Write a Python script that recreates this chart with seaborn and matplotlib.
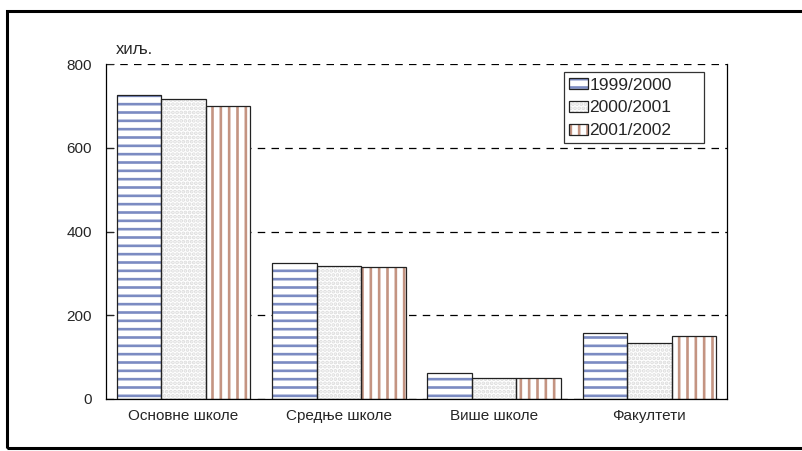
import pandas as pd
import matplotlib.pyplot as plt
import seaborn as sns
from matplotlib.patches import Rectangle, Patch
from matplotlib.legend_handler import HandlerTuple

# values in thousands
categories = ['Основне школе', 'Средње школе', 'Више школе', 'Факултети']
years = ['1999/2000', '2000/2001', '2001/2002']
v1999 = [725, 325, 62, 157]
v2000 = [716, 317, 50, 134]
v2001 = [699, 315, 50, 150]

df = pd.DataFrame({
    'category': categories * 3,
    'year': [years[0]] * 4 + [years[1]] * 4 + [years[2]] * 4,
    'value': v1999 + v2000 + v2001,
})

sns.set_style('white')
plt.rcParams['font.family'] = ['Liberation Sans', 'DejaVu Sans']
plt.rcParams['hatch.linewidth'] = 1.9

hatches = ['--', '....', '||']
hatch_colors = ['#7b8bc2', '#dcdcdc', '#c49482']
face_colors = ['white', 'white', 'white']

fig = plt.figure(figsize=(8.02, 4.51), dpi=100)
ax = fig.add_axes([106 / 802, 52 / 451, 621 / 802, 335 / 451])

sns.barplot(data=df, x='category', y='value', hue='year', order=categories,
            hue_order=years, width=0.86, ax=ax, legend=False, saturation=1)

# restyle bars: hatch in colour, thin black outline on top
for i, cont in enumerate(ax.containers):
    for p in cont.patches:
        p.set_facecolor(face_colors[i])
        p.set_edgecolor(hatch_colors[i])
        p.set_hatch(hatches[i])
        p.set_linewidth(0)
        p.set_zorder(2)
        ax.add_patch(Rectangle(p.get_xy(), p.get_width(), p.get_height(),
                               fill=False, ec='#222222', lw=0.9, zorder=3))

ax.set_ylim(0, 800)
ax.set_xlim(-0.5, 3.5)
ax.set_yticks([0, 200, 400, 600, 800])
ax.yaxis.grid(True, color='black', linestyle=(0, (6, 5)), linewidth=0.9)
ax.set_axisbelow(True)
ax.set_xlabel('')
ax.set_ylabel('')
ax.tick_params(axis='y', direction='in', length=6, width=0.8, pad=10,
               labelsize=11, left=True)
ax.tick_params(axis='x', length=0, pad=7, labelsize=11)
for s in ['left', 'bottom', 'right']:
    ax.spines[s].set_color('black')
    ax.spines[s].set_linewidth(0.9)
ax.spines['top'].set_visible(False)

ax.text(0.015, 1.02, 'хиљ.', transform=ax.transAxes, fontsize=12,
        ha='left', va='bottom')

handles = [(Patch(facecolor=face_colors[i], edgecolor=hatch_colors[i],
                  hatch=hatches[i], linewidth=0),
            Patch(facecolor='none', edgecolor='#222222', linewidth=0.9))
           for i in range(3)]
leg = ax.legend(handles, years, handler_map={tuple: HandlerTuple(ndivide=1)},
                loc='upper left', bbox_to_anchor=(0.7375, 0.5, 0.2255, 0.475),
                mode='expand', fontsize=12.5, frameon=True, fancybox=False,
                handlelength=1.1, handleheight=0.6, handletextpad=0.05,
                labelspacing=0.45, borderpad=0.3, borderaxespad=0)
leg.get_frame().set_edgecolor('black')
leg.get_frame().set_linewidth(0.9)

# outer frame of the figure
fig.add_artist(Rectangle((7 / 802, 3 / 451), 1.0, 437 / 451,
                         transform=fig.transFigure, fill=False,
                         ec='black', lw=2.2, clip_on=False))

fig.savefig('out.png', dpi=100)
